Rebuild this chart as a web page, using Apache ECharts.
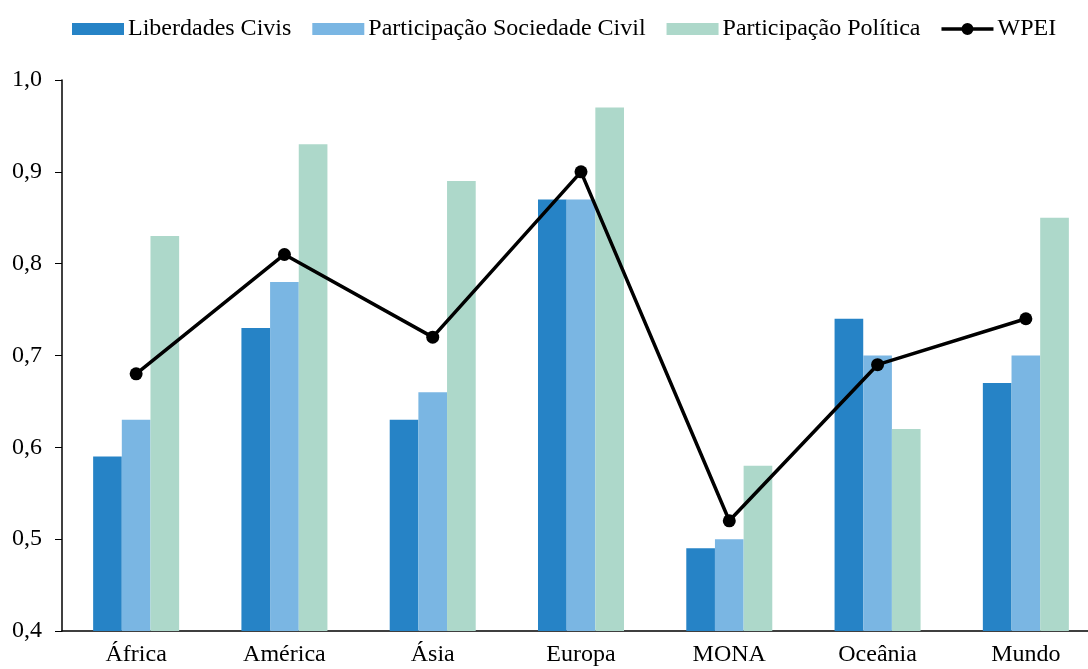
<!DOCTYPE html>
<html><head><meta charset="utf-8">
<script src="https://cdn.jsdelivr.net/npm/echarts@6/dist/echarts.min.js"></script>
<style>html,body{margin:0;padding:0;background:#fff}#c{width:1088px;height:669px}</style>
</head><body><div id="c"></div>
<script>
const categories = ['África','América','Ásia','Europa','MONA','Oceânia','Mundo'];
const liberdades = [0.59,0.73,0.63,0.87,0.49,0.74,0.67];
const sociedade = [0.63,0.78,0.66,0.87,0.50,0.70,0.70];
const politica = [0.83,0.93,0.89,0.97,0.58,0.62,0.85];
const wpei = [0.68,0.81,0.72,0.90,0.52,0.69,0.74];
const yTicks = [0.4,0.5,0.6,0.7,0.8,0.9,1.0];

const font = '"Liberation Serif", "Times New Roman", serif';
const lineIcon = 'path://M0,4.2L52,4.2L52,7.8L0,7.8Z M20,6A6,6,0,1,1,32,6A6,6,0,1,1,20,6Z';
const chart = echarts.init(document.getElementById('c'));
chart.setOption({
  animation:false,
  textStyle:{fontFamily:font},
  legend:{
    top:12, left:67, itemWidth:52, itemHeight:12, itemGap:21,
    textStyle:{fontFamily:font,fontSize:24,color:'#000',padding:[0,0,0,-1]},
    data:[
      {name:'Liberdades Civis',icon:'rect'},
      {name:'Participação Sociedade Civil',icon:'rect'},
      {name:'Participação Política',icon:'rect'},
      {name:'WPEI',icon:lineIcon,itemStyle:{color:'#000'}}
    ]
  },
  grid:{left:62, top:80, width:1038, height:551, outerBoundsMode:'none', containLabel:false},
  xAxis:{
    type:'category', data:categories,
    axisLine:{lineStyle:{color:'#000',width:1.5}},
    axisTick:{show:false},
    axisLabel:{fontFamily:font,fontSize:24,color:'#000',margin:12}
  },
  yAxis:{
    type:'value', min:0.4, max:1.0, interval:0.1,
    axisLine:{show:true,lineStyle:{color:'#000',width:1.5}},
    axisTick:{show:true,length:7,lineStyle:{color:'#000'}},
    splitLine:{show:false},
    axisLabel:{fontFamily:font,fontSize:24,color:'#000',margin:20,
      formatter:v=>v.toFixed(1).replace('.',',')}
  },
  series:[
    {name:'Liberdades Civis',type:'bar',data:liberdades,barGap:'0%',barCategoryGap:'42%',itemStyle:{color:'#2683C6'}},
    {name:'Participação Sociedade Civil',type:'bar',data:sociedade,barGap:'0%',itemStyle:{color:'#7AB6E3'}},
    {name:'Participação Política',type:'bar',data:politica,barGap:'0%',itemStyle:{color:'#ADD8CA'}},
    {name:'WPEI',type:'line',data:wpei,symbol:'circle',symbolSize:13,
      lineStyle:{color:'#000',width:3.5},itemStyle:{color:'#000'}}
  ]
});
</script></body></html>
